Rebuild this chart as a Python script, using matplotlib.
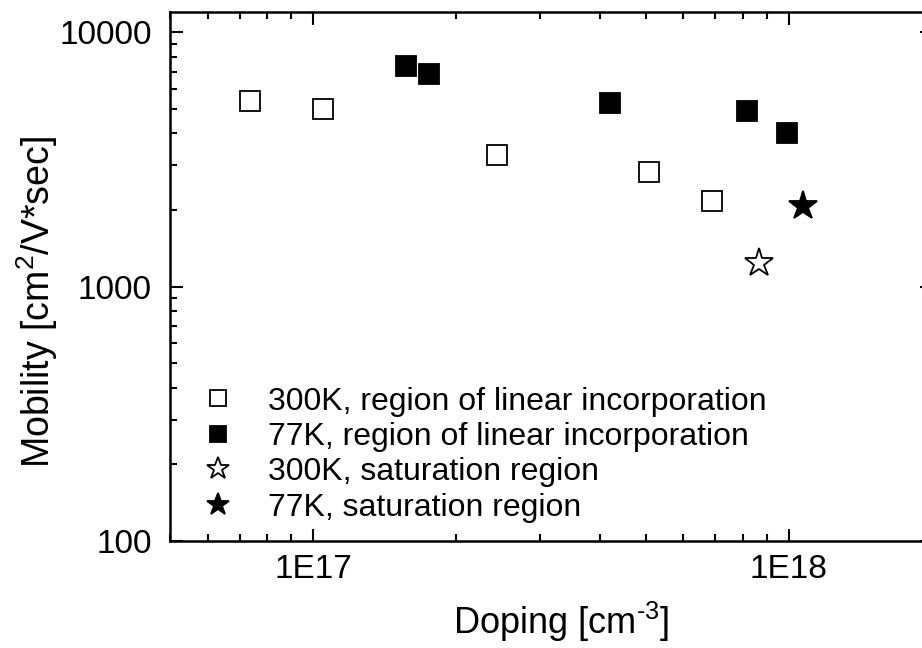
import matplotlib
matplotlib.use('Agg')
import matplotlib.pyplot as plt
from matplotlib.ticker import FixedLocator, FixedFormatter, LogLocator, NullFormatter

plt.rcParams['font.family'] = ['Liberation Sans', 'DejaVu Sans']
plt.rcParams['mathtext.fontset'] = 'custom'
plt.rcParams['mathtext.rm'] = 'Liberation Sans'
plt.rcParams['mathtext.it'] = 'Liberation Sans'

# data
open_sq_x = [7.36e16, 1.05e17, 2.43e17, 5.08e17, 6.89e17]
open_sq_y = [5350, 4990, 3290, 2820, 2170]
fill_sq_x = [1.565e17, 1.756e17, 4.21e17, 8.16e17, 9.9e17]
fill_sq_y = [7350, 6840, 5260, 4890, 4010]
open_star_x = [8.65e17]
open_star_y = [1237]
fill_star_x = [1.07e18]
fill_star_y = [2071]

labels = ['300K, region of linear incorporation',
          '77K, region of linear incorporation',
          '300K, saturation region',
          '77K, saturation region']

fig = plt.figure(figsize=(9.22, 6.48), dpi=100)
ax = fig.add_axes([170/922, 1-541/648, 762/922, 529/648])

ax.plot(open_sq_x, open_sq_y, 's', ms=15, mfc='white', mec='black', mew=1.3, label=labels[0])
ax.plot(fill_sq_x, fill_sq_y, 's', ms=15, mfc='black', mec='black', mew=1.3, label=labels[1])
ax.plot(open_star_x, open_star_y, '*', ms=21, mfc='white', mec='black', mew=1.3, label=labels[2])
ax.plot(fill_star_x, fill_star_y, '*', ms=21, mfc='black', mec='black', mew=1.3, label=labels[3])

ax.set_xscale('log')
ax.set_yscale('log')
ax.set_xlim(5e16, 2e18)
ax.set_ylim(100, 12000)

ax.xaxis.set_major_locator(FixedLocator([1e17, 1e18]))
ax.xaxis.set_major_formatter(FixedFormatter(['1E17', '1E18']))
ax.xaxis.set_minor_locator(LogLocator(base=10, subs=range(2, 10)))
ax.xaxis.set_minor_formatter(NullFormatter())
ax.yaxis.set_major_locator(FixedLocator([100, 1000, 10000]))
ax.yaxis.set_major_formatter(FixedFormatter(['100', '1000', '10000']))
ax.yaxis.set_minor_locator(LogLocator(base=10, subs=range(2, 10)))
ax.yaxis.set_minor_formatter(NullFormatter())

ax.tick_params(which='both', direction='in', top=True, right=True, width=1.5, labelsize=24)
ax.tick_params(axis='x', which='major', pad=9)
ax.tick_params(axis='y', which='major', pad=13)
ax.tick_params(which='major', length=9)
ax.tick_params(which='minor', length=5)
for s in ax.spines.values():
    s.set_linewidth(1.8)

ax.set_xlabel('Doping [cm$^{\u20103}$]', fontsize=26)
ax.set_ylabel(r'Mobility [cm$^2$/V*sec]', fontsize=27)
ax.xaxis.set_label_coords(0.513, -0.112)
ax.yaxis.set_label_coords(-0.145, 0.452)

ax.legend(loc='upper left', bbox_to_anchor=(0.021, 0.292), frameon=False, fontsize=23,
          markerscale=0.8, handlelength=2.0, handletextpad=0.56, labelspacing=0.17,
          borderaxespad=0, borderpad=0)

fig.savefig('out.png', dpi=100)
